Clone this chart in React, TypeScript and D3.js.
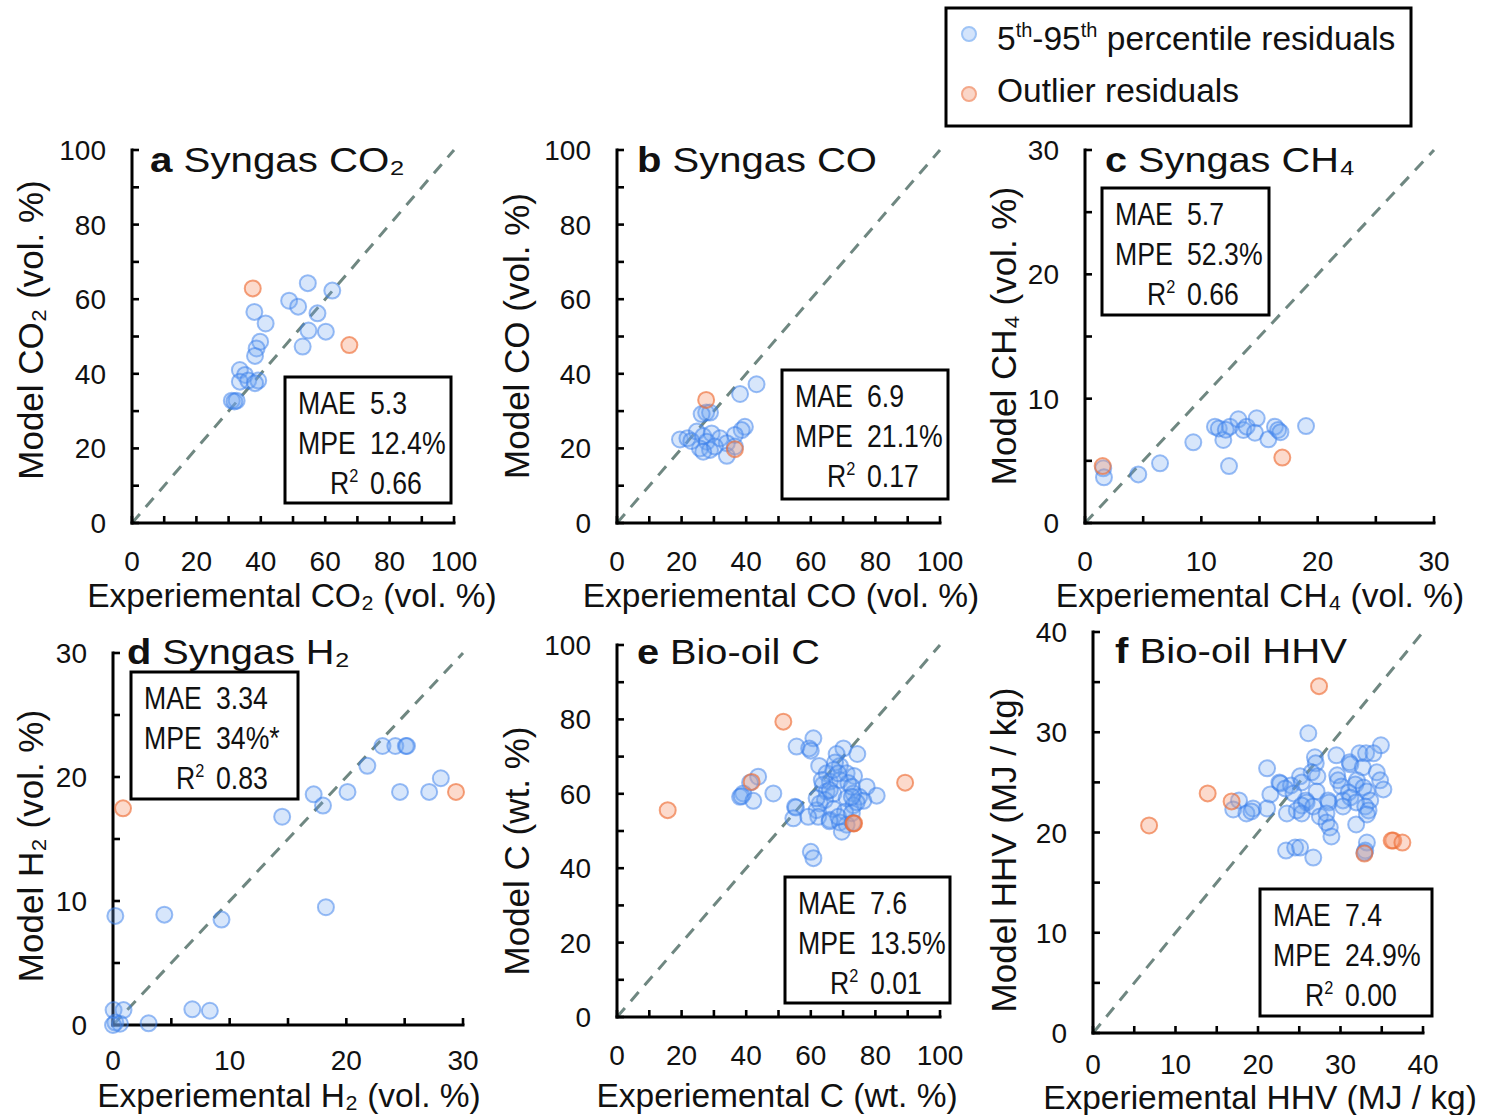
import React from 'react';
import * as d3 from 'd3';

// ---------- data ----------
const aInlier: [number, number][] = [
  [54.6, 64.3], [62.2, 62.3], [48.8, 59.6], [51.6, 58.0], [57.6, 56.2], [38.0, 56.6], [41.5, 53.5],
  [54.8, 51.6], [60.2, 51.3], [53.0, 47.3], [39.8, 48.6], [38.7, 46.8], [38.2, 44.8], [33.5, 41.0],
  [35.1, 39.7], [33.5, 37.9], [36.1, 38.2], [39.2, 38.2], [38.2, 37.5], [31.0, 32.8], [32.5, 32.8], [31.8, 32.6],
];
const aOutlier: [number, number][] = [[37.5, 62.9], [67.5, 47.7]];

const bInlier: [number, number][] = [
  [43.2, 37.2], [38.1, 34.6], [27.6, 29.6], [28.8, 29.6], [26.2, 29.2], [39.6, 25.8], [38.6, 24.9],
  [36.5, 23.6], [19.5, 22.4], [21.8, 22.7], [24.7, 24.5], [26.7, 23.3], [29.3, 24.0], [31.9, 22.7],
  [34.0, 21.4], [27.8, 21.8], [25.7, 20.0], [28.8, 19.6], [30.3, 20.5], [26.7, 19.1], [34.0, 18.0],
  [23.0, 22.0], [36.5, 20.5],
];
const bOutlier: [number, number][] = [[27.6, 33.0], [36.5, 19.8]];

const cInlier: [number, number][] = [
  [1.57, 4.4], [1.63, 3.67], [4.58, 3.91], [6.45, 4.8], [9.31, 6.49], [12.38, 4.58], [11.89, 6.68],
  [11.17, 7.75], [11.5, 7.6], [12.46, 7.75], [13.18, 8.34], [13.61, 7.48], [13.9, 7.75], [14.76, 8.42],
  [14.61, 7.26], [15.76, 6.73], [16.33, 7.75], [16.6, 7.48], [16.8, 7.3], [19.0, 7.8], [12.1, 7.5],
];
const cOutlier: [number, number][] = [[1.52, 4.58], [16.96, 5.26]];

const dInlier: [number, number][] = [
  [23.1, 22.5], [24.2, 22.5], [25.1, 22.5], [25.2, 22.5], [21.8, 20.9], [28.1, 19.9], [17.2, 18.6],
  [20.1, 18.8], [24.6, 18.8], [27.1, 18.8], [18.0, 17.7], [14.5, 16.8], [18.25, 9.5], [0.2, 8.8],
  [4.4, 8.9], [9.3, 8.5], [0.05, 1.2], [0.9, 1.2], [6.8, 1.27], [8.3, 1.15], [0.2, 0.2], [0.6, 0.1],
  [3.05, 0.14], [0.0, 0.0],
];
const dOutlier: [number, number][] = [[0.86, 17.47], [29.4, 18.8]];

const eInlier: [number, number][] = [
  [60.8, 74.9], [55.6, 72.7], [59.5, 72.2], [60.0, 71.6], [70.1, 72.2], [68.0, 70.7], [74.4, 70.7],
  [62.6, 67.5], [69.0, 67.5], [67.5, 68.4], [43.7, 64.6], [41.2, 63.0], [64.9, 65.5], [71.1, 65.5],
  [73.4, 64.8], [65.9, 63.3], [69.0, 63.7], [71.6, 62.9], [63.7, 62.4], [77.3, 61.9], [39.1, 60.1],
  [38.1, 59.2], [38.6, 59.4], [42.2, 58.1], [48.4, 60.1], [80.4, 59.5], [64.9, 60.6], [67.0, 60.0],
  [73.2, 60.1], [75.0, 59.2], [71.1, 58.8], [76.3, 58.1], [55.1, 56.5], [55.4, 56.3], [62.8, 57.4],
  [64.4, 58.3], [61.8, 55.6], [67.0, 55.9], [73.2, 56.9], [70.6, 55.2], [62.3, 53.8], [54.6, 53.4],
  [59.2, 53.8], [65.9, 53.0], [65.8, 52.6], [69.0, 52.3], [71.1, 51.7], [69.6, 49.8], [60.0, 44.4],
  [60.8, 42.7], [67.0, 66.4], [68.5, 65.5], [63.4, 63.7], [65.9, 61.0], [72.7, 61.9], [74.2, 57.7],
  [61.8, 58.8], [68.5, 53.8], [72.7, 59.2], [72.7, 54.8], [73.0, 52.2],
];
const eOutlier: [number, number][] = [[51.5, 79.4], [41.7, 63.2], [15.7, 55.6], [89.2, 63.0], [73.2, 52.0], [73.4, 52.1]];

const fInlier: [number, number][] = [
  [26.1, 29.9], [34.9, 28.7], [32.3, 27.9], [33.1, 27.9], [34.0, 27.9], [29.5, 27.7], [26.9, 27.5],
  [27.0, 26.9], [31.1, 27.0], [31.2, 26.8], [32.7, 26.5], [21.1, 26.4], [26.5, 26.0], [34.4, 26.0],
  [25.1, 25.6], [29.6, 25.7], [27.2, 25.6], [29.7, 25.2], [32.0, 25.2], [34.8, 25.2], [22.6, 25.0],
  [22.7, 24.9], [24.0, 24.7], [25.3, 25.0], [30.1, 24.6], [31.8, 24.8], [35.2, 24.3], [32.8, 24.5],
  [23.3, 24.4], [21.5, 23.8], [27.1, 24.1], [31.0, 24.0], [33.2, 24.1], [24.3, 23.9], [25.8, 23.2],
  [25.9, 23.0], [28.5, 23.2], [28.6, 23.0], [30.3, 23.2], [31.2, 23.5], [31.9, 23.0], [33.6, 23.2],
  [17.7, 23.2], [17.0, 22.3], [19.4, 22.4], [18.6, 21.9], [19.2, 22.1], [21.1, 22.4], [25.3, 22.7],
  [25.3, 21.9], [24.7, 22.2], [26.7, 22.6], [23.5, 21.9], [27.5, 21.6], [28.3, 21.9], [30.3, 22.6],
  [33.0, 22.6], [33.4, 22.2], [33.2, 21.8], [28.3, 21.0], [28.7, 20.5], [28.9, 19.6], [31.9, 20.8],
  [33.2, 19.0], [33.0, 18.2], [23.4, 18.2], [24.5, 18.5], [25.1, 18.5], [26.7, 17.5], [32.9, 18.0],
];
const fOutlier: [number, number][] = [
  [27.4, 34.6], [13.9, 23.9], [16.8, 23.1], [6.8, 20.7], [36.4, 19.2], [36.2, 19.2], [37.5, 19.0], [32.9, 17.9],
];

const ticks100 = [0, 20, 40, 60, 80, 100];
const ticks30 = [0, 10, 20, 30];
const ticks40 = [0, 10, 20, 30, 40];

const letters = ['a', 'b', 'c', 'd', 'e', 'f'];
const titles = ['Syngas CO\u2082', 'Syngas CO', 'Syngas CH\u2084', 'Syngas H\u2082', 'Bio-oil C', 'Bio-oil HHV'];
const xTitles = [
  'Experiemental CO\u2082 (vol. %)', 'Experiemental CO (vol. %)', 'Experiemental CH\u2084 (vol. %)',
  'Experiemental H\u2082 (vol. %)', 'Experiemental C (wt. %)', 'Experiemental HHV (MJ / kg)',
];
const yTitles = [
  'Model CO\u2082 (vol. %)', 'Model CO (vol. %)', 'Model CH\u2084 (vol. %)',
  'Model H\u2082 (vol. %)', 'Model C (wt. %)', 'Model HHV (MJ / kg)',
];
const maeValues = ['5.3', '6.9', '5.7', '3.34', '7.6', '7.4'];
const mpeValues = ['12.4%', '21.1%', '52.3%', '34%*', '13.5%', '24.9%'];
const r2Values = ['0.66', '0.17', '0.66', '0.83', '0.01', '0.00'];

// ---------- layout ----------
const FONT = "'Liberation Sans', Arial, Helvetica, sans-serif";

type Layout = {
  x: [number, number]; y: [number, number]; max: number; minorStep: number; labels: number[];
  tickDy: number;
  titleX: number; titleY: number; titleLen: number;
  box: [number, number, number, number];
  xTitleX: number; xTitleY: number; yTitleX: number; yTitleY: number;
};

const layouts: Layout[] = [
  { x: [132, 454], y: [523, 150], max: 100, minorStep: 10, labels: ticks100, tickDy: 48, titleX: 150, titleY: 172, titleLen: 255,
    box: [285, 377, 166, 126], xTitleX: 292, xTitleY: 607, yTitleX: 43, yTitleY: 330 },
  { x: [617, 940], y: [523, 150], max: 100, minorStep: 10, labels: ticks100, tickDy: 48, titleX: 637, titleY: 172, titleLen: 240,
    box: [782, 370, 166, 129], xTitleX: 781, xTitleY: 607, yTitleX: 529, yTitleY: 336 },
  { x: [1085, 1434], y: [523, 150], max: 30, minorStep: 5, labels: ticks30, tickDy: 48, titleX: 1105, titleY: 172, titleLen: 250,
    box: [1102, 188, 167, 127], xTitleX: 1260, xTitleY: 607, yTitleX: 1016, yTitleY: 336 },
  { x: [113, 463], y: [1025, 653], max: 30, minorStep: 5, labels: ticks30, tickDy: 45, titleX: 127, titleY: 664, titleLen: 223,
    box: [131, 672, 167, 127], xTitleX: 289, xTitleY: 1107, yTitleX: 43, yTitleY: 846 },
  { x: [617, 940], y: [1017, 645], max: 100, minorStep: 10, labels: ticks100, tickDy: 48, titleX: 637, titleY: 664, titleLen: 183,
    box: [785, 877, 165, 126], xTitleX: 777, xTitleY: 1107, yTitleX: 529, yTitleY: 851 },
  { x: [1093, 1423], y: [1033, 632], max: 40, minorStep: 5, labels: ticks40, tickDy: 41, titleX: 1115, titleY: 663, titleLen: 232,
    box: [1260, 889, 172, 127], xTitleX: 1260, xTitleY: 1109, yTitleX: 1016, yTitleY: 850 },
];

const inliers = [aInlier, bInlier, cInlier, dInlier, eInlier, fInlier];
const outliers = [aOutlier, bOutlier, cOutlier, dOutlier, eOutlier, fOutlier];

const BLUE_FILL = 'rgba(110,165,240,0.28)';
const BLUE_STROKE = 'rgba(55,125,235,0.5)';
const ORANGE_FILL = 'rgba(245,150,110,0.35)';
const ORANGE_STROKE = 'rgba(238,110,55,0.65)';

const SX = 0.86;

function Panel({ i }: { i: number }) {
  const L = layouts[i];
  const xs = d3.scaleLinear().domain([0, L.max]).range(L.x);
  const ys = d3.scaleLinear().domain([0, L.max]).range(L.y);
  const minor = d3.range(0, L.max + L.minorStep / 2, L.minorStep);
  const tl = 7;
  const [bx, by, bw, bh] = L.box;
  return (
    <g>
      {/* diagonal */}
      <line x1={xs(0)} y1={ys(0)} x2={xs(L.max)} y2={ys(L.max)} stroke="#6f8781" strokeWidth={3}
        strokeDasharray="12,9" />
      {/* axes */}
      <line x1={xs(0)} y1={ys(0)} x2={xs(L.max)} y2={ys(0)} stroke="#000" strokeWidth={3} strokeLinecap="square" />
      <line x1={xs(0)} y1={ys(0)} x2={xs(0)} y2={ys(L.max)} stroke="#000" strokeWidth={3} strokeLinecap="square" />
      {minor.map((t) => (
        <line key={'xt' + t} x1={xs(t)} x2={xs(t)} y1={ys(0)} y2={ys(0) - tl} stroke="#000" strokeWidth={2.6} />
      ))}
      {minor.map((t) => (
        <line key={'yt' + t} x1={xs(0)} x2={xs(0) + tl} y1={ys(t)} y2={ys(t)} stroke="#000" strokeWidth={2.6} />
      ))}
      {L.labels.map((t) => (
        <text key={'xl' + t} x={xs(t)} y={ys(0) + L.tickDy} textAnchor="middle" fontFamily={FONT} fontSize={28} fill="#111">
          {t}
        </text>
      ))}
      {L.labels.map((t) => (
        <text key={'yl' + t} x={xs(0) - 26} y={ys(t) + 10} textAnchor="end" fontFamily={FONT} fontSize={28} fill="#111">
          {t}
        </text>
      ))}
      {/* axis titles */}
      <text x={L.xTitleX} y={L.xTitleY} textAnchor="middle" fontFamily={FONT} fontSize={33.5} fill="#111">
        {xTitles[i]}
      </text>
      <text transform={`translate(${L.yTitleX},${L.yTitleY}) rotate(-90)`} textAnchor="middle" fontFamily={FONT}
        fontSize={35} fill="#111">
        {yTitles[i]}
      </text>
      {/* panel title */}
      <text x={L.titleX} y={L.titleY} fontFamily={FONT} fontSize={35} fill="#111" textLength={L.titleLen}
        lengthAdjust="spacingAndGlyphs">
        <tspan fontWeight="bold">{letters[i]}</tspan>
        <tspan>{' ' + titles[i]}</tspan>
      </text>
      {/* points */}
      {inliers[i].map((p, k) => (
        <circle key={'in' + k} cx={xs(p[0])} cy={ys(p[1])} r={8} fill={BLUE_FILL} stroke={BLUE_STROKE} strokeWidth={2} />
      ))}
      {outliers[i].map((p, k) => (
        <circle key={'out' + k} cx={xs(p[0])} cy={ys(p[1])} r={8} fill={ORANGE_FILL} stroke={ORANGE_STROKE} strokeWidth={2} />
      ))}
      {/* stats box */}
      <rect x={bx} y={by} width={bw} height={bh} fill="#fff" stroke="#000" strokeWidth={3} />
      <g transform={`translate(${bx + 13},${by}) scale(${SX},1)`} fontFamily={FONT} fontSize={31} fill="#111">
        <text x={0} y={37}>MAE</text>
        <text x={72 / SX} y={37}>{maeValues[i]}</text>
        <text x={0} y={77}>MPE</text>
        <text x={72 / SX} y={77}>{mpeValues[i]}</text>
        <text x={32 / SX} y={117}>
          R<tspan fontSize={19} dy={-12}>2</tspan>
        </text>
        <text x={72 / SX} y={117}>{r2Values[i]}</text>
      </g>
    </g>
  );
}

function Legend() {
  return (
    <g>
      <rect x={946} y={8} width={465} height={118} fill="#fff" stroke="#000" strokeWidth={3} />
      <circle cx={969} cy={34} r={7} fill="#d4e4fb" stroke="#9ec4f6" strokeWidth={2} />
      <circle cx={969} cy={94} r={7} fill="#fad6c8" stroke="#f4a889" strokeWidth={2} />
      <text x={997} y={50} fontFamily={FONT} fontSize={33.5} fill="#111">
        5<tspan fontSize={20} dy={-13}>th</tspan><tspan dy={13}>-95</tspan>
        <tspan fontSize={20} dy={-13}>th</tspan><tspan dy={13}> percentile residuals</tspan>
      </text>
      <text x={997} y={102} fontFamily={FONT} fontSize={33.5} fill="#111">Outlier residuals</text>
    </g>
  );
}

export default function App() {
  return (
    <svg width={1487} height={1115} style={{ position: 'absolute', left: 0, top: 0, display: 'block', background: '#fff' }}>
      <rect x={0} y={0} width={1487} height={1115} fill="#fff" />
      {layouts.map((_, i) => (
        <Panel key={i} i={i} />
      ))}
      <Legend />
    </svg>
  );
}
